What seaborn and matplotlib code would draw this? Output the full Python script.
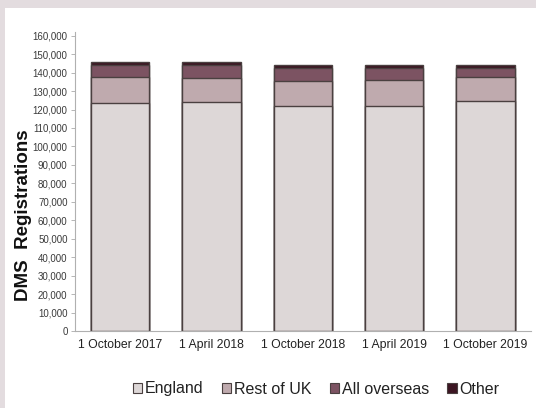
import matplotlib
matplotlib.use("Agg")
import matplotlib.pyplot as plt
import seaborn as sns
import pandas as pd
import numpy as np
from matplotlib.patches import Rectangle, Patch

categories = ["1 October 2017", "1 April 2018", "1 October 2018", "1 April 2019", "1 October 2019"]
england = [123800, 124000, 122000, 122000, 124800]
rest_of_uk = [13600, 13300, 13700, 13800, 13000]
all_overseas = [6900, 7000, 6900, 6800, 4800]
other = [1700, 1300, 1400, 1400, 1400]
series_names = ["England", "Rest of UK", "All overseas", "Other"]
colors = ["#ddd7d7", "#bfaaae", "#7c5362", "#3c1522"]
yticks = list(range(0, 160001, 10000))

sns.set_style("white")
plt.rcParams["font.family"] = ["Liberation Sans", "DejaVu Sans"]

fig = plt.figure(figsize=(5.36, 4.08), dpi=100)
fig.patch.set_facecolor("#e3dcdf")
fig.patches.append(Rectangle((5 / 536, 0), 1, 1 - 8 / 408, transform=fig.transFigure,
                             facecolor="white", edgecolor="none", zorder=-10))
ax = fig.add_axes([74.5 / 536, 1 - 331 / 408, (531 - 74.5) / 536, (331 - 32) / 408])
ax.set_facecolor("none")

series = [england, rest_of_uk, all_overseas, other]
cum = np.cumsum(np.array(series), axis=0)
# draw from top of stack downward
for i in range(len(series) - 1, -1, -1):
    df = pd.DataFrame({"cat": categories, "val": cum[i]})
    sns.barplot(data=df, x="cat", y="val", color=colors[i], edgecolor="#4a4040",
                linewidth=1.0, width=0.64, saturation=1, ax=ax, zorder=2)

ax.set_xlim(-0.5, 4.5)
ax.set_ylim(0, 162000)
ax.set_yticks(yticks)
ax.set_yticklabels([f"{v:,}" for v in yticks], fontsize=7, color="#3a3a3a")
ax.tick_params(axis="y", length=3, width=0.6, color="#aaaaaa", pad=2, left=True)
ax.tick_params(axis="x", length=0, labelsize=8.8, pad=6, labelcolor="#222222")
ax.set_xlabel("")
ax.set_ylabel("")
fig.text(24 / 536, 1 - 215 / 408, "DMS  Registrations", rotation=90, ha="center", va="center",
         fontsize=13.5, fontweight="bold", color="#111111")
for s in ["top", "right"]:
    ax.spines[s].set_visible(False)
for s in ["left", "bottom"]:
    ax.spines[s].set_color("#b0b0b0")
    ax.spines[s].set_linewidth(0.8)

handles = [Patch(facecolor=c, edgecolor="#4a4040", linewidth=0.8) for c in colors]
fig.legend(handles, series_names, loc="center", bbox_to_anchor=(316 / 536, 1 - 389 / 408),
           ncol=4, frameon=False, fontsize=11.5, handlelength=0.6, handleheight=0.6,
           handletextpad=0.15, columnspacing=1.15, labelcolor="#222222")

fig.savefig("out.png", dpi=100, facecolor=fig.get_facecolor())
